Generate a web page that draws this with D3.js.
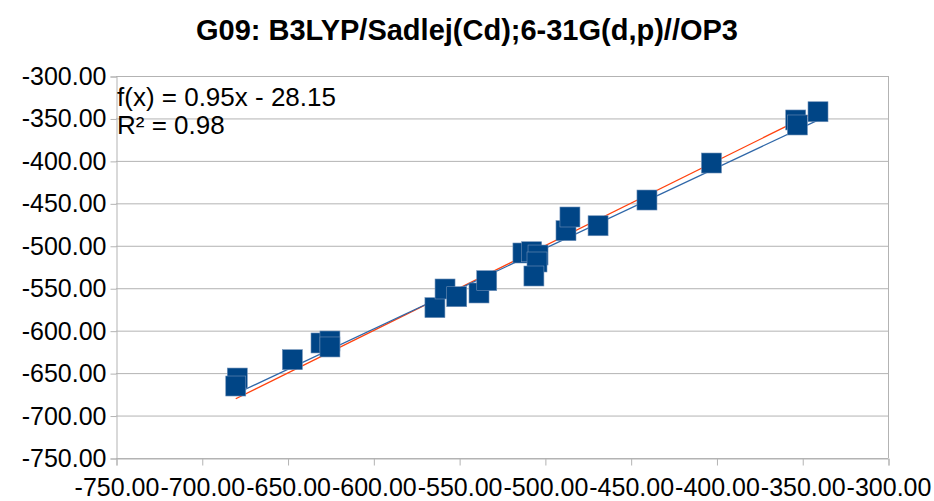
<!DOCTYPE html>
<html>
<head>
<meta charset="utf-8">
<script src="https://cdn.jsdelivr.net/npm/d3@7"></script>
<style>
  body { margin: 0; background: #fff; }
  text { font-family: "Liberation Sans", Arial, sans-serif; }
</style>
</head>
<body>
<div id="chart"></div>
<script>
// data
var xVals = [-679.3, -680.2, -647.2, -630.5, -625.3, -625.3, -564.1, -558.2, -551.4, -538.4, -533.9,
             -512.8, -507.7, -504.0, -504.6, -506.4, -487.7, -485.4, -469.0, -440.5, -402.9, -353.8, -352.8, -340.8];
var yVals = [-655.8, -665.2, -634.2, -614.5, -612.2, -619.2, -572.9, -550.9, -560.0, -555.6, -541.1,
             -508.5, -507.0, -510.9, -519.1, -535.6, -482.2, -466.1, -476.4, -446.1, -402.5, -351.8, -357.7, -342.1];
var trendSlope = 0.95, trendIntercept = -28.15, rSquared = 0.98;
var tickVals = [-750, -700, -650, -600, -550, -500, -450, -400, -350, -300];
var title = "G09: B3LYP/Sadlej(Cd);6-31G(d,p)//OP3";

var width = 934, height = 501;
var plotLeft = 116, plotRight = 888, plotTop = 76, plotBottom = 458;
var grey = "#b3b3b3";
var fmt = function(d) { return d.toFixed(2); };   // plain hyphen, not the unicode minus

var svg = d3.select("#chart").append("svg")
    .attr("width", width)
    .attr("height", height);

var x = d3.scaleLinear().domain([-750, -300]).range([plotLeft, plotRight]);
var y = d3.scaleLinear().domain([-750, -300]).range([plotBottom, plotTop]);

// title
svg.append("text")
   .attr("x", width / 2)
   .attr("y", 40)
   .attr("text-anchor", "middle")
   .style("font-size", "29px")
   .style("font-weight", "bold")
   .text(title);

// horizontal grid
svg.selectAll(".grid")
   .data(tickVals)
   .enter()
   .append("line")
   .attr("class", "grid")
   .attr("x1", plotLeft)
   .attr("x2", plotRight)
   .attr("y1", function(d) { return y(d) + 0.5; })
   .attr("y2", function(d) { return y(d) + 0.5; })
   .attr("stroke", grey)
   .attr("stroke-width", 1);

// right border
svg.append("line")
   .attr("x1", plotRight + 0.5).attr("x2", plotRight + 0.5)
   .attr("y1", plotTop).attr("y2", plotBottom)
   .attr("stroke", grey);

// y axis
var yAxis = svg.append("g")
   .attr("transform", "translate(" + (plotLeft + 0.5) + ",0.5)")
   .call(d3.axisLeft(y).tickValues(tickVals).tickFormat(fmt).tickSize(6).tickPadding(4));

// x axis
var xAxis = svg.append("g")
   .attr("transform", "translate(0.5," + (plotBottom + 0.5) + ")")
   .call(d3.axisBottom(x).tickValues(tickVals).tickFormat(fmt).tickSize(7).tickPadding(13));

[yAxis, xAxis].forEach(function(g) {
  g.select(".domain").attr("stroke", grey);
  g.selectAll(".tick line").attr("stroke", grey);
  g.selectAll(".tick text")
   .attr("fill", "#000")
   .style("font-family", "'Liberation Sans', Arial, sans-serif")
   .style("font-size", "25px");
});

var xMin = d3.min(xVals), xMax = d3.max(xVals);

// y = x reference line
svg.append("line")
   .attr("x1", x(xMin)).attr("y1", y(xMin))
   .attr("x2", x(xMax)).attr("y2", y(xMax))
   .attr("stroke", "#ff420e")
   .attr("stroke-width", 1.3);

// linear trend
svg.append("line")
   .attr("x1", x(xMin)).attr("y1", y(trendSlope * xMin + trendIntercept))
   .attr("x2", x(xMax)).attr("y2", y(trendSlope * xMax + trendIntercept))
   .attr("stroke", "#2f67a8")
   .attr("stroke-width", 1.3);

// points
var pts = xVals.map(function(d, i) { return [d, yVals[i]]; });
var s = 20;
svg.selectAll(".pt")
   .data(pts)
   .enter()
   .append("rect")
   .attr("class", "pt")
   .attr("x", function(d) { return x(d[0]) - s / 2; })
   .attr("y", function(d) { return y(d[1]) - s / 2; })
   .attr("width", s)
   .attr("height", s)
   .attr("fill", "#004586")
   .attr("stroke", "#6f90b8")
   .attr("stroke-width", 0.6);

// equation text
var eq = svg.append("text")
   .attr("x", plotLeft + 1)
   .style("font-size", "26px");
eq.append("tspan").attr("x", plotLeft + 1).attr("y", 106)
  .text("f(x) = " + trendSlope.toFixed(2) + "x - " + Math.abs(trendIntercept).toFixed(2));
eq.append("tspan").attr("x", plotLeft + 1).attr("y", 134)
  .text("R² = " + rSquared.toFixed(2));
</script>
</body>
</html>
